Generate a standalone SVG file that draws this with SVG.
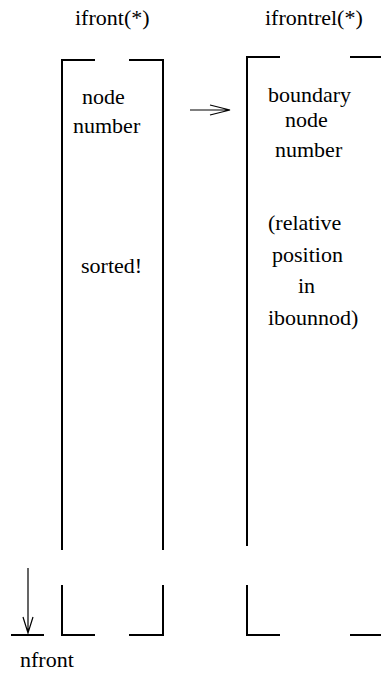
<svg xmlns="http://www.w3.org/2000/svg" width="381" height="673" viewBox="0 0 381 673">
<style>
.t{font-size:22px;fill:#000}
.b{fill:none;stroke:#000;stroke-width:2}
.a{fill:none;stroke:#000;stroke-width:1.2}
</style>
<rect width="381" height="673" fill="#fff"/>
<g font-family="Liberation Serif">
<g id="label-ifront"><text class="t" x="75" y="25">ifront(*)</text></g>
<g id="label-ifrontrel"><text class="t" x="265" y="25">ifrontrel(*)</text></g>
<g id="box-ifront">
<path class="b" d="M95,60H62V550M129,60H163V550M62,585V635H95M163,585V635H129"/>
<text class="t" x="82" y="104">node</text>
<text class="t" x="73" y="133">number</text>
<text class="t" x="81" y="273">sorted!</text>
</g>
<g id="box-ifrontrel">
<path class="b" d="M280,57H247V546M350,57H381M247,585V635H280M350,635H381"/>
<text class="t" x="268" y="102">boundary</text>
<text class="t" x="285" y="127">node</text>
<text class="t" x="275" y="157">number</text>
<text class="t" x="268" y="230">(relative</text>
<text class="t" x="272" y="262">position</text>
<text class="t" x="298" y="293">in</text>
<text class="t" x="268" y="325">ibounnod)</text>
</g>
<g id="nfront">
<path class="b" d="M11,635H44"/>
<text class="t" x="20" y="667">nfront</text>
</g>
</g>
<g id="connectors">
<path class="a" d="M190,110H230M210,105L230,110L210,115"/>
<path class="a" d="M28,568V633M23,617L28,633L33,617"/>
</g>
</svg>
